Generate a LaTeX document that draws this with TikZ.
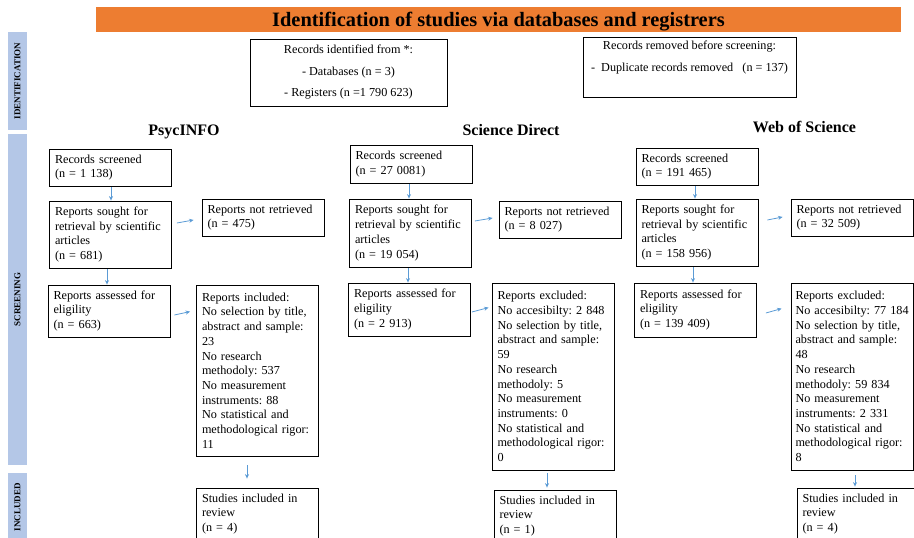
\documentclass[tikz,border=0pt]{standalone}
\usepackage{fontspec}
\setmainfont{Liberation Serif}
\usepackage{tikz}
\usetikzlibrary{arrows.meta}
\pgfdeclarelayer{bg}
\pgfsetlayers{bg,main}
\frenchspacing
\definecolor{bannerorange}{HTML}{ED7D31}
\definecolor{sideblue}{HTML}{B4C7E7}
\definecolor{arrowblue}{HTML}{5B9BD5}
\tikzset{
    box/.style={draw, line width=0.8pt, align=left, text width=111pt, inner xsep=5.5pt, inner ysep=3pt, font=\fontsize{12.2}{14.7}\selectfont},
    topbox/.style={draw, line width=0.8pt, align=center, inner sep=0pt, font=\fontsize{12.2}{14.7}\selectfont},
    side/.style={fill=sideblue, rotate=90, inner sep=0pt, font=\fontsize{9}{11}\selectfont\bfseries},
    head/.style={anchor=base, inner sep=0pt, font=\fontsize{16}{19}\selectfont\bfseries},
    arr/.style={draw=arrowblue, line width=0.8pt, -{Stealth[length=4.5pt,width=4pt]}}
}

\begin{document}
\begin{tikzpicture}
        \useasboundingbox (0pt,0pt) rectangle (914pt,538pt);
        \node (t0) [fill=bannerorange, minimum width=805pt, minimum height=25pt, inner sep=0pt, text height=14pt, text depth=0pt, font=\fontsize{20.4}{24}\selectfont\bfseries] at (498.5pt, 518.5pt) {Identification of studies via databases and registrers};
        \node (l0) [side, minimum width=98pt, minimum height=19pt] at (17.5pt, 457pt) {IDENTIFICATION};
        \node (l1) [side, minimum width=331pt, minimum height=19pt] at (17.5pt, 238.5pt) {SCREENING};
        \node (l2) [side, minimum width=68pt, minimum height=19pt] at (17.5pt, 31pt) {INCLUDED};
        \node (r0) [topbox, minimum width=197pt, minimum height=67pt] at (348.5pt, 465.5pt) {Records identified from *:\\[6.8pt]- Databases (n = 3)\\[6.8pt]- Registers (n =1 790 623)};
        \node (r1) [topbox, minimum width=213pt, minimum height=60pt] at (689.5pt, 471pt) {Records removed before screening:\\[6.8pt]-\ \ Duplicate records removed\ \ \ (n = 137)\\[6.8pt]~};
        \node (h0) [head] at (184pt, 402pt) {PsycINFO};
        \node (h1) [head] at (511pt, 402pt) {Science Direct};
        \node (h2) [head] at (804.5pt, 405pt) {Web of Science};
        \node (p0) [box, minimum height=37pt] at (110.5pt, 370.5pt) {Records screened\\(n = 1 138)};
        \node (p1) [box, minimum height=67pt] at (110.5pt, 303.5pt) {Reports sought for\\retrieval by scientific\\articles\\(n = 681)};
        \node (p2) [box, minimum height=52pt] at (109pt, 227pt) {Reports assessed for\\eligility\\(n = 663)};
        \node (p3) [box, minimum height=37pt] at (263pt, 320.5pt) {Reports not retrieved\\(n = 475)};
        \node (p4) [box, minimum height=171pt] at (257.5pt, 167.5pt) {Reports included:\\No selection by title,\\abstract and sample:\\23\\No research\\methodoly: 537\\No measurement\\instruments: 88\\No statistical and\\methodological rigor:\\11};
        \node (p5) [box, minimum height=52pt] at (257.5pt, 24pt) {Studies included in\\review\\(n = 4)};
        \node (s0) [box, minimum height=38pt] at (411pt, 374pt) {Records screened\\(n = 27 0081)};
        \node (s1) [box, minimum height=68pt] at (410.5pt, 305pt) {Reports sought for\\retrieval by scientific\\articles\\(n = 19 054)};
        \node (s2) [box, minimum height=53pt] at (409.5pt, 228.5pt) {Reports assessed for\\eligility\\(n = 2 913)};
        \node (s3) [box, minimum height=37pt] at (560pt, 318.5pt) {Reports not retrieved\\(n = 8 027)};
        \node (s4) [box, minimum height=187pt] at (553pt, 161.5pt) {Reports excluded:\\No accesibilty: 2 848\\No selection by title,\\abstract and sample:\\59\\No research\\methodoly: 5\\No measurement\\instruments: 0\\No statistical and\\methodological rigor:\\0};
        \node (s5) [box, minimum height=52pt] at (555pt, 22pt) {Studies included in\\review\\(n = 1)};
        \node (w0) [box, minimum height=37pt] at (697pt, 371.5pt) {Records screened\\(n = 191 465)};
        \node (w1) [box, minimum height=67pt] at (697pt, 305.5pt) {Reports sought for\\retrieval by scientific\\articles\\(n = 158 956)};
        \node (w2) [box, minimum height=54pt] at (695.5pt, 228pt) {Reports assessed for\\eligility\\(n = 139 409)};
        \node (w3) [box, minimum height=37pt] at (852pt, 320.5pt) {Reports not retrieved\\(n = 32 509)};
        \node (w4) [box, text width=113pt, inner xsep=4.5pt, minimum height=187pt] at (852pt, 161.5pt) {Reports excluded:\\\mbox{No accesibilty: 77 184}\\No selection by title,\\abstract and sample:\\48\\No research\\methodoly: 59 834\\No measurement\\instruments: 2 331\\No statistical and\\methodological rigor:\\8};
        \node (w5) [box, minimum height=52pt] at (858pt, 24pt) {Studies included in\\review\\(n = 4)};
        \begin{pgfonlayer}{bg}
                \draw[arr] ([xshift=0.5pt]p0.south) -- ([xshift=0.5pt]p0.south |- p1.north);
                \draw[arr] ([xshift=-3.5pt]p1.south) -- ([xshift=-3.5pt]p1.south |- p2.north);
                \draw[arr] ([shift={(5pt,11.5pt)}]p1.east) -- ([shift={(-8pt,-2.5pt)}]p3.west);
                \draw[arr] ([shift={(4pt,-4pt)}]p2.east) -- ([shift={(-6pt,-27pt)}]p4.north west);
                \draw[arr, shorten <=9pt, shorten >=9pt] ([xshift=-10.5pt]p4.south) -- ([xshift=-10.5pt]p4.south |- p5.north);
                \draw[arr] ([xshift=-2pt]s0.south) -- ([xshift=-2pt]s0.south |- s1.north);
                \draw[arr] ([xshift=-2.5pt]s1.south) -- ([xshift=-2.5pt]s1.south |- s2.north);
                \draw[arr] ([shift={(3pt,12pt)}]s1.east) -- ([shift={(-6pt,1.5pt)}]s3.west);
                \draw[arr] ([shift={(1pt,-2.5pt)}]s2.east) -- ([shift={(-3pt,-25pt)}]s4.north west);
                \draw[arr, shorten <=3pt, shorten >=2pt] ([xshift=-6pt]s4.south) -- ([xshift=-6pt]s4.south |- s5.north);
                \draw[arr] ([xshift=-2pt]w0.south) -- ([xshift=-2pt]w0.south |- w1.north);
                \draw[arr] ([xshift=-4pt]w1.south) -- ([xshift=-4pt]w1.south |- w2.north);
                \draw[arr] ([shift={(9pt,12.5pt)}]w1.east) -- ([shift={(-8pt,0.5pt)}]w3.west);
                \draw[arr] ([shift={(9pt,-3pt)}]w2.east) -- ([shift={(-9pt,-26pt)}]w4.north west);
                \draw[arr, shorten <=5pt, shorten >=1pt] ([xshift=3pt]w4.south) -- ([xshift=3pt]w4.south |- w5.north);
        \end{pgfonlayer}
\end{tikzpicture}
\end{document}
